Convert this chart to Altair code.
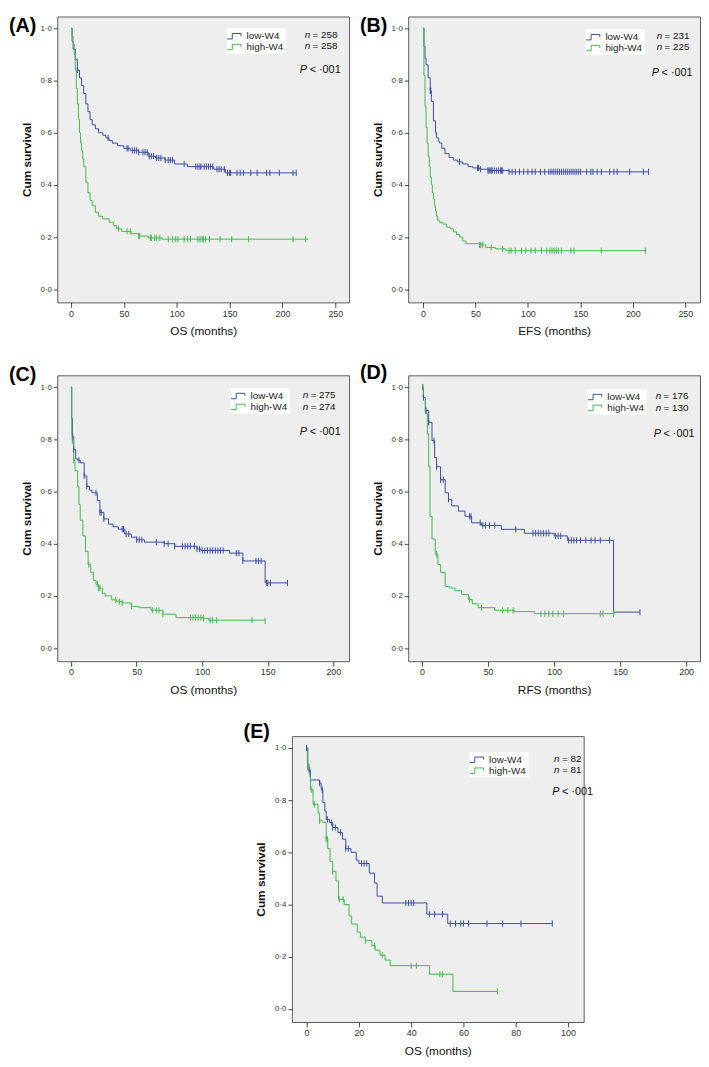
import altair as alt
import numpy as np
import pandas as pd

FONT = "Liberation Sans"
BLUE = "#3c4ca0"
GREEN = "#40b94d"
GROUPS = ["low-W4", "high-W4"]

# ---------------- Panel A (OS) ----------------
A_LOW_T = [0, 1, 2, 4, 6, 8, 10, 12, 14, 16, 18, 20, 23, 26, 30, 33, 36, 39, 44, 50, 56, 64, 73, 80, 89, 98, 110, 135, 146, 213]
A_LOW_S = [1.0, 0.95, 0.92, 0.88, 0.84, 0.81, 0.78, 0.75, 0.71, 0.68, 0.65, 0.63, 0.615, 0.60, 0.59, 0.58, 0.57, 0.56, 0.55, 0.54, 0.532, 0.525, 0.51, 0.503, 0.495, 0.48, 0.47, 0.46, 0.446, 0.446]
A_HIGH_T = [0, 1, 2, 3, 4, 5, 6, 7, 8, 9, 10, 11, 12, 14, 16, 18, 20, 23, 26, 30, 36, 40, 43, 48, 57, 64, 73, 86, 224]
A_HIGH_S = [1.0, 0.97, 0.94, 0.90, 0.84, 0.77, 0.71, 0.65, 0.60, 0.56, 0.53, 0.50, 0.47, 0.41, 0.37, 0.34, 0.32, 0.295, 0.28, 0.27, 0.257, 0.245, 0.232, 0.222, 0.213, 0.204, 0.197, 0.192, 0.192]
A_LOW_CENS = [6, 35, 53, 54, 58, 60, 62, 64, 68, 70, 72, 74, 76, 78, 81, 83, 85, 89, 92, 94, 96, 107, 118, 120, 122, 123, 126, 128, 130, 132, 134, 138, 140, 142, 145, 148, 150, 151, 157, 160, 163, 170, 176, 185, 188, 197, 210, 213]
A_HIGH_CENS = [45, 53, 56, 64, 65, 75, 76, 79, 81, 84, 92, 96, 99, 101, 107, 110, 113, 120, 122, 124, 125, 127, 131, 141, 152, 168, 210, 222]

# ---------------- Panel B (EFS) ----------------
B_LOW_T = [0, 1, 2, 3, 5, 7, 8, 10, 12, 13, 15, 16, 18, 21, 25, 29, 33, 38, 43, 47.5, 54, 62, 82, 215]
B_LOW_S = [1.0, 0.93, 0.885, 0.86, 0.81, 0.76, 0.72, 0.645, 0.60, 0.58, 0.565, 0.56, 0.54, 0.52, 0.505, 0.495, 0.488, 0.48, 0.47, 0.465, 0.46, 0.455, 0.45, 0.45]
B_HIGH_T = [0, 1, 2, 3, 4, 5, 6, 7, 8, 9, 10, 11, 12, 13, 14, 16, 19, 22.5, 26, 29, 32, 35, 38, 41, 54, 60, 69, 79, 213]
B_HIGH_S = [1.0, 0.82, 0.70, 0.62, 0.56, 0.51, 0.47, 0.43, 0.40, 0.37, 0.345, 0.32, 0.30, 0.28, 0.265, 0.256, 0.25, 0.238, 0.232, 0.22, 0.21, 0.20, 0.185, 0.175, 0.17, 0.16, 0.155, 0.148, 0.148]
B_LOW_CENS = [7, 7.5, 35, 52, 53, 55, 62, 63, 64, 65, 66, 68, 70, 72, 74, 75, 76, 82, 85, 88, 92, 96, 100, 104, 107, 112, 116, 120, 122, 124, 126, 128, 130, 132, 134, 136, 138, 140, 142, 144, 146, 148, 150, 156, 160, 162, 166, 170, 178, 182, 185, 197, 210, 215]
B_HIGH_CENS = [54, 55, 57, 65, 76, 82, 84, 88, 94, 98, 103, 107, 113, 118, 121, 123, 125, 127, 129, 132, 141, 144, 170, 212]

# ---------------- Panel C (OS) ----------------
C_LOW_T = [0, 0.5, 1, 2, 3.5, 5, 7, 10, 12, 14, 16, 20, 22, 25, 28.6, 32, 36, 41, 46, 50, 56, 71, 79, 96, 99, 121, 131, 148, 165]
C_LOW_S = [1.0, 0.88, 0.81, 0.76, 0.725, 0.72, 0.71, 0.66, 0.62, 0.605, 0.595, 0.565, 0.52, 0.495, 0.475, 0.465, 0.456, 0.437, 0.425, 0.415, 0.406, 0.40, 0.39, 0.38, 0.374, 0.364, 0.334, 0.25, 0.25]
C_HIGH_T = [0, 0.5, 1, 2, 3, 5, 6, 7, 9, 11, 13, 15, 17, 19, 21, 24, 26, 31, 35, 39, 46, 52, 61, 70, 80, 101, 105, 148]
C_HIGH_S = [1.0, 0.82, 0.795, 0.72, 0.68, 0.62, 0.55, 0.49, 0.43, 0.37, 0.32, 0.29, 0.26, 0.245, 0.23, 0.21, 0.20, 0.185, 0.178, 0.173, 0.16, 0.155, 0.145, 0.13, 0.117, 0.114, 0.107, 0.105]
C_LOW_CENS = [1, 2, 6, 10, 12, 19, 22, 23, 25, 39, 40, 42, 44, 50, 52, 54, 65, 71, 74, 79, 85, 87, 89, 91, 94, 96, 98, 100, 102, 104, 106, 108, 110, 112, 114, 116, 126, 128, 131, 141, 143, 145, 149, 150, 152, 165]
C_HIGH_CENS = [1, 2, 13.5, 20, 21, 22, 34, 37, 39, 46, 62, 65, 67, 70, 91, 93, 95, 97, 99, 101, 106, 108, 111, 138, 148]

# ---------------- Panel D (RFS) ----------------
D_LOW_T = [0, 1, 2.5, 5, 7.5, 9.5, 11, 14, 17.5, 20, 22.5, 27.5, 32.5, 37.5, 45, 60, 77.5, 100, 110, 145, 165]
D_LOW_S = [1.0, 0.96, 0.91, 0.865, 0.795, 0.73, 0.695, 0.645, 0.595, 0.57, 0.545, 0.525, 0.505, 0.48, 0.47, 0.455, 0.44, 0.43, 0.413, 0.138, 0.138]
D_HIGH_T = [0, 1, 2.5, 4, 5, 6, 7.5, 10, 12, 14, 17.5, 21, 25, 30, 35, 38, 42.5, 55, 70, 85, 146]
D_HIGH_S = [1.0, 0.96, 0.90, 0.82, 0.695, 0.505, 0.418, 0.36, 0.32, 0.29, 0.236, 0.23, 0.22, 0.205, 0.186, 0.17, 0.155, 0.145, 0.14, 0.132, 0.132]
D_LOW_CENS = [0.5, 1, 3, 5, 9, 11, 14, 16, 20, 36, 37, 44, 46, 48, 51, 55, 71, 84, 86, 88, 90, 92, 94, 96, 101, 103, 105, 111, 113, 115, 117, 120, 124, 128, 131, 135, 142, 165]
D_HIGH_CENS = [0.5, 11, 36, 45, 61, 65, 69, 90, 93, 96, 99, 103, 107, 135, 137, 145]

# ---------------- Panel E (OS) ----------------
E_LOW_T = [0, 0.5, 1.5, 5, 5.6, 6.25, 7, 7.5, 8.75, 10, 12, 13.75, 15, 17, 19, 20, 24, 26, 27, 29, 46, 54, 94]
E_LOW_S = [1.0, 0.915, 0.877, 0.865, 0.84, 0.79, 0.758, 0.726, 0.714, 0.695, 0.676, 0.65, 0.614, 0.60, 0.57, 0.557, 0.52, 0.482, 0.432, 0.406, 0.363, 0.327, 0.327]
E_HIGH_T = [0, 0.3, 0.6, 1.25, 1.5, 2.5, 4.4, 5, 6.25, 7.5, 8.1, 9, 10, 11.25, 12.25, 14.4, 16.25, 17.25, 19.4, 20.6, 22.5, 25, 26.25, 28.1, 30, 32, 47, 56, 73]
E_HIGH_S = [1.0, 0.94, 0.927, 0.89, 0.84, 0.783, 0.75, 0.72, 0.714, 0.65, 0.614, 0.564, 0.526, 0.49, 0.42, 0.40, 0.356, 0.325, 0.294, 0.275, 0.262, 0.243, 0.225, 0.206, 0.187, 0.166, 0.133, 0.067, 0.067]
E_LOW_CENS = [0, 1, 5, 6, 8, 9.5, 10, 11, 13, 15, 16, 21, 22, 23, 38, 39, 40, 41, 47, 49, 52, 55, 57, 59, 60, 62, 69, 75, 82, 94]
E_HIGH_CENS = [1, 2, 3, 5, 7.5, 8, 10, 12.5, 14, 22.5, 26, 29, 40, 42, 51, 52, 73]

LABELS = ["(A)", "(B)", "(C)", "(D)", "(E)"]
X_TITLES = ["OS (months)", "EFS (months)", "OS (months)", "RFS (months)", "OS (months)"]
N_LOW = [258, 231, 275, 176, 82]
N_HIGH = [258, 225, 274, 130, 81]
P_TEXT = "< ·001"
X_TICKS = [[0, 50, 100, 150, 200, 250], [0, 50, 100, 150, 200, 250],
           [0, 50, 100, 150, 200], [0, 50, 100, 150, 200], [0, 20, 40, 60, 80, 100]]
Y_TICKS = [0.0, 0.2, 0.4, 0.6, 0.8, 1.0]

W, H = 296, 290

# layout / style per panel (pixel offsets relative to plot frame)
STYLE = [
    dict(dom=[-13, 263], lab_y=0, leg_x=172, leg_y=12, n_x=251, n_y=[19, 30], p_x=246, p_y=54),
    dict(dom=[-14, 264], lab_y=0, leg_x=180, leg_y=13, n_x=252, n_y=[20, 31], p_x=247, p_y=57),
    dict(dom=[-10.5, 212], lab_y=-10, leg_x=176, leg_y=13, n_x=249, n_y=[20, 32], p_x=246, p_y=58),
    dict(dom=[-10.5, 210.5], lab_y=-12, leg_x=182, leg_y=14, n_x=251, n_y=[21, 33], p_x=249, p_y=60),
    dict(dom=[-5.6, 106], lab_y=-14, leg_x=180, leg_y=16, n_x=266, n_y=[23, 34], p_x=264, p_y=57),
]

CURVES = [
    (A_LOW_T, A_LOW_S, A_HIGH_T, A_HIGH_S, A_LOW_CENS, A_HIGH_CENS),
    (B_LOW_T, B_LOW_S, B_HIGH_T, B_HIGH_S, B_LOW_CENS, B_HIGH_CENS),
    (C_LOW_T, C_LOW_S, C_HIGH_T, C_HIGH_S, C_LOW_CENS, C_HIGH_CENS),
    (D_LOW_T, D_LOW_S, D_HIGH_T, D_HIGH_S, D_LOW_CENS, D_HIGH_CENS),
    (E_LOW_T, E_LOW_S, E_HIGH_T, E_HIGH_S, E_LOW_CENS, E_HIGH_CENS),
]

STEP_GLYPH = "M-1.4,0.5L-0.45,0.5L-0.45,-0.5L1.15,-0.5L1.15,-0.05"
TICK_GLYPH = "M0,-1L0,1"
FRAME = alt.ViewBackground(fill="#eeeeee", stroke="#5a5a5a", strokeWidth=1)


def surv_at(ts, ss, t):
    i = int(np.searchsorted(np.asarray(ts, dtype=float), t, side="right")) - 1
    return ss[max(i, 0)]


def txt(s, x, y, **kw):
    opts = dict(align="left", baseline="middle", font=FONT, fontSize=10, color="#111")
    opts.update(kw)
    return alt.Chart(pd.DataFrame({"v": [s]})).mark_text(**opts).encode(
        text="v:N", x=alt.value(x), y=alt.value(y))


def panel(i):
    lt, ls, ht, hs, lc, hc = CURVES[i]
    st = STYLE[i]
    cdf = pd.concat([
        pd.DataFrame({"t": lt, "s": ls, "g": GROUPS[0]}),
        pd.DataFrame({"t": ht, "s": hs, "g": GROUPS[1]}),
    ])
    kdf = pd.concat([
        pd.DataFrame({"t": lc, "s": [surv_at(lt, ls, c) for c in lc], "g": GROUPS[0]}),
        pd.DataFrame({"t": hc, "s": [surv_at(ht, hs, c) for c in hc], "g": GROUPS[1]}),
    ])
    xs = alt.Scale(domain=st["dom"], nice=False, zero=False)
    ys = alt.Scale(domain=[-0.05, 1.045], nice=False, zero=False)
    xaxis = alt.Axis(values=X_TICKS[i], title=X_TITLES[i], grid=False, domain=False,
                     tickSize=5, tickColor="#444", labelFontSize=9, labelColor="#333",
                     labelFont=FONT, labelPadding=2, titleFont=FONT, titleFontSize=12,
                     titleFontWeight="normal", titleColor="#111", titlePadding=8)
    yaxis = alt.Axis(values=Y_TICKS, title="Cum survival", grid=False, domain=False,
                     tickSize=4, tickColor="#444", labelFontSize=8, labelColor="#333",
                     labelFont=FONT, labelPadding=2,
                     labelExpr="replace(format(datum.value, '.1f'), '.', '·')",
                     titleFont=FONT, titleFontSize=12, titleFontWeight="bold",
                     titleColor="#111", titlePadding=7)
    cscale = alt.Scale(domain=GROUPS, range=[BLUE, GREEN])
    legend = alt.Legend(orient="none", legendX=st["leg_x"], legendY=st["leg_y"],
                        fillColor="white", padding=2, symbolType=STEP_GLYPH,
                        symbolSize=121, symbolStrokeWidth=1, symbolFillColor="transparent",
                        labelFont=FONT, labelFontSize=10, labelColor="#222",
                        labelOffset=6, rowPadding=0)
    line = alt.Chart(cdf).mark_line(interpolate="step-after", strokeWidth=1).encode(
        x=alt.X("t:Q", scale=xs, axis=xaxis),
        y=alt.Y("s:Q", scale=ys, axis=yaxis),
        color=alt.Color("g:N", scale=cscale, legend=legend, title=None),
    )
    cens = alt.Chart(kdf).mark_point(shape=TICK_GLYPH, size=40, strokeWidth=1,
                                      filled=False, opacity=1).encode(
        x="t:Q", y="s:Q",
        stroke=alt.Stroke("g:N", scale=cscale, legend=None),
    )
    layers = [line, cens,
              txt("n", st["n_x"], st["n_y"][0], fontStyle="italic"),
              txt("= " + str(N_LOW[i]), st["n_x"] + 8, st["n_y"][0]),
              txt("n", st["n_x"], st["n_y"][1], fontStyle="italic"),
              txt("= " + str(N_HIGH[i]), st["n_x"] + 8, st["n_y"][1]),
              txt("P", st["p_x"], st["p_y"], fontStyle="italic", fontSize=11),
              txt(P_TEXT, st["p_x"] + 10, st["p_y"], fontSize=11),
              txt(LABELS[i], -49, st["lab_y"], baseline="top", fontSize=20,
                  fontWeight="bold", color="#000")]
    return alt.layer(*layers).properties(width=W, height=H, view=FRAME).resolve_scale(
        color="independent", stroke="independent")


spacer = alt.Chart(pd.DataFrame({"v": [0]})).mark_point(opacity=0).encode(
    x=alt.value(0), y=alt.value(0)).properties(
    width=187, height=10, view=alt.ViewBackground(fill="transparent", stroke="transparent"))

row1 = alt.hconcat(panel(0), panel(1), spacing=9).resolve_scale(color="independent").resolve_legend(color="independent")
row2 = alt.hconcat(panel(2), panel(3), spacing=9).resolve_scale(color="independent").resolve_legend(color="independent")
row3 = alt.hconcat(spacer, panel(4), spacing=0).resolve_scale(color="independent").resolve_legend(color="independent")

chart = alt.vconcat(row1, row2, row3, spacing=25).resolve_scale(
    color="independent").resolve_legend(color="independent").properties(
    padding=0).configure_view(fill="#eeeeee", stroke="#5a5a5a", strokeWidth=1).configure(
    font=FONT)

chart.save("out.html", embed_options={"renderer": "svg", "actions": False})
